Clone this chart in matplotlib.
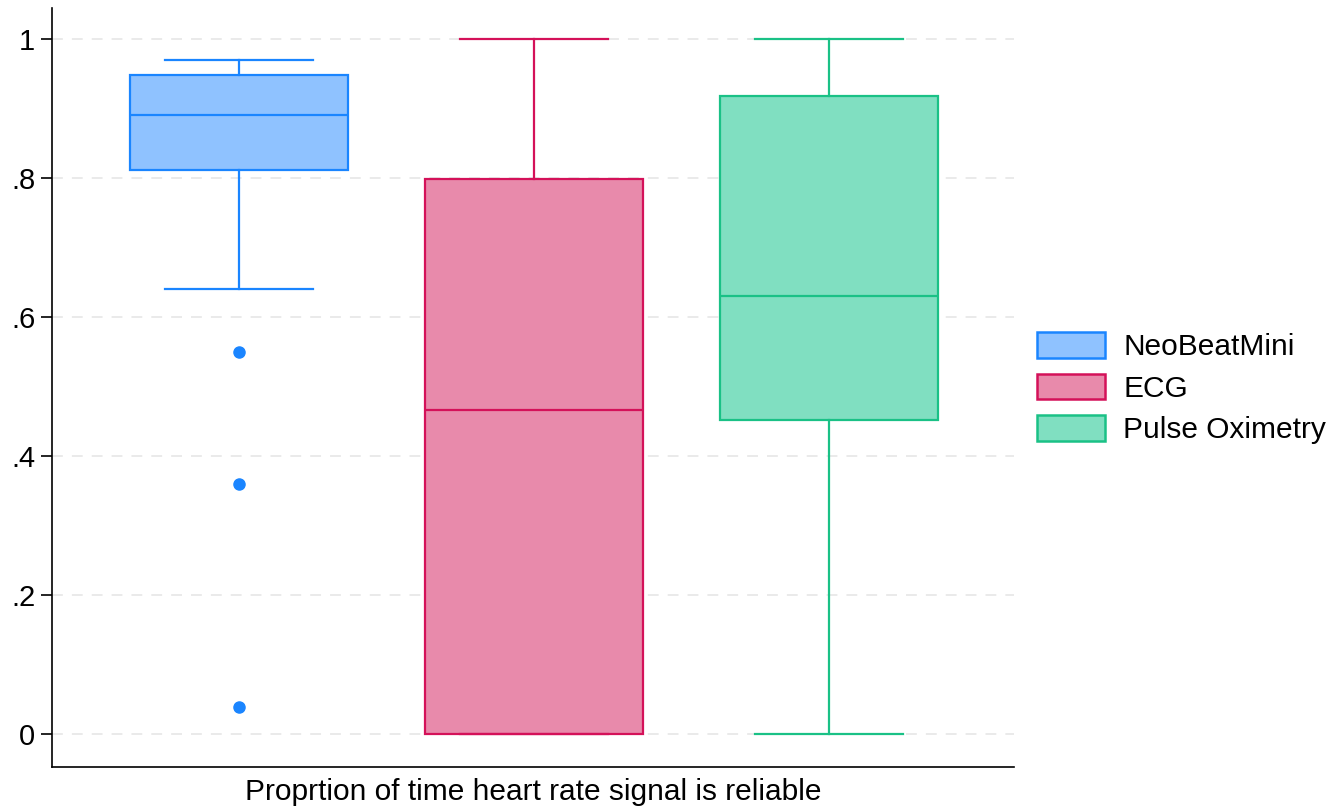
import matplotlib

matplotlib.use("Agg")
import matplotlib.pyplot as plt
from matplotlib.patches import Patch

plt.rcParams["font.family"] = ["Liberation Sans", "DejaVu Sans"]

# Box summaries (proportion of time the signal is reliable)
devices = ["NeoBeatMini", "ECG", "Pulse Oximetry"]
whisker_low = [0.640, 0.0, 0.0]
q1 = [0.812, 0.001, 0.452]
median = [0.891, 0.466, 0.630]
q3 = [0.948, 0.799, 0.918]
whisker_high = [0.970, 1.0, 1.0]
outliers = [[0.550, 0.360, 0.040], [], []]

yticks = [0, 0.2, 0.4, 0.6, 0.8, 1.0]
ytick_labels = ["0", ".2", ".4", ".6", ".8", "1"]

EDGE = ["#1a85ff", "#d41159", "#1ac186"]
FILL = ["#8fc2ff", "#e88aab", "#80dfc1"]

fig = plt.figure(figsize=(13.34, 8.07), dpi=100)
ax = fig.add_axes([0.039, 0.0496, 0.721, 0.9405])

stats = []
for i, name in enumerate(devices):
    stats.append(
        {
            "label": name,
            "whislo": whisker_low[i],
            "q1": q1[i],
            "med": median[i],
            "q3": q3[i],
            "whishi": whisker_high[i],
            "fliers": outliers[i],
        }
    )

positions = [1, 2, 3]
for i, st in enumerate(stats):
    ax.bxp(
        [st],
        positions=[positions[i]],
        widths=0.74,
        capwidths=0.5,
        patch_artist=True,
        showfliers=True,
        boxprops=dict(facecolor=FILL[i], edgecolor=EDGE[i], linewidth=1.6),
        medianprops=dict(color=EDGE[i], linewidth=1.6),
        whiskerprops=dict(color=EDGE[i], linewidth=1.6),
        capprops=dict(color=EDGE[i], linewidth=1.6),
        flierprops=dict(marker="o", markerfacecolor=EDGE[i], markeredgecolor=EDGE[i], markersize=8),
        zorder=3,
    )

ax.set_xlim(0.366, 3.627)
ax.set_ylim(-0.047, 1.045)
ax.set_xticks([])
ax.set_yticks(yticks, ytick_labels)
ax.tick_params(axis="y", length=8, width=1.2, labelsize=21, pad=4)
for y in yticks:
    ax.axhline(y, color="#e8e8e8", linestyle=(0, (6, 5)), linewidth=1.3, zorder=1)
ax.spines["top"].set_visible(False)
ax.spines["right"].set_visible(False)
ax.spines["left"].set_linewidth(1.2)
ax.spines["bottom"].set_linewidth(1.2)
ax.set_xlabel("Proprtion of time heart rate signal is reliable", fontsize=21.5, labelpad=8)

handles = [Patch(facecolor=FILL[i], edgecolor=EDGE[i], linewidth=1.8, label=devices[i]) for i in range(3)]
fig.legend(
    handles=handles,
    loc="center left",
    bbox_to_anchor=(0.777, 0.519),
    frameon=False,
    fontsize=21.5,
    handlelength=2.3,
    handleheight=0.95,
    handletextpad=0.6,
    labelspacing=0.42,
    borderaxespad=0.0,
    borderpad=0.0,
)

fig.savefig("out.png", dpi=100)
